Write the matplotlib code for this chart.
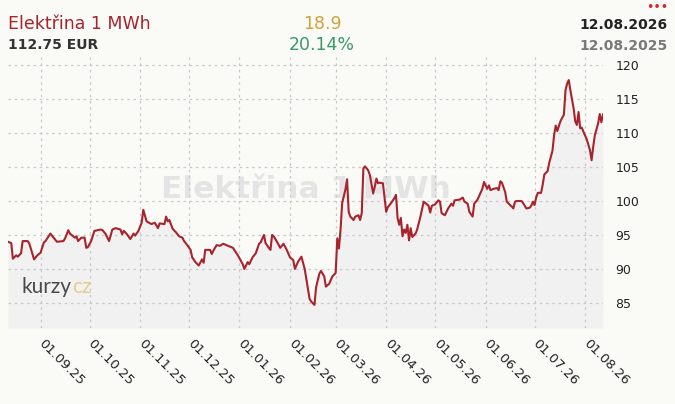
import matplotlib
matplotlib.use("Agg")
import matplotlib.pyplot as plt
import matplotlib.transforms as mtransforms
import pandas as pd
import numpy as np

# ---------------- data ----------------
dates = [
    "2025-08-12", "2025-08-14", "2025-08-15", "2025-08-17", "2025-08-18", "2025-08-20", "2025-08-21",
    "2025-08-24", "2025-08-25", "2025-08-28", "2025-08-30", "2025-09-01", "2025-09-03", "2025-09-04",
    "2025-09-07", "2025-09-09", "2025-09-11", "2025-09-15", "2025-09-16", "2025-09-18", "2025-09-19",
    "2025-09-22", "2025-09-23", "2025-09-24", "2025-09-26", "2025-09-28", "2025-09-29", "2025-09-30",
    "2025-10-02", "2025-10-04", "2025-10-08", "2025-10-09", "2025-10-11", "2025-10-13", "2025-10-15",
    "2025-10-17", "2025-10-20", "2025-10-21", "2025-10-22", "2025-10-24", "2025-10-26", "2025-10-28",
    "2025-10-29", "2025-10-31", "2025-11-02", "2025-11-03", "2025-11-05", "2025-11-08", "2025-11-10",
    "2025-11-12", "2025-11-13", "2025-11-16", "2025-11-17", "2025-11-18", "2025-11-19", "2025-11-21",
    "2025-11-23", "2025-11-25", "2025-11-27", "2025-11-28", "2025-11-30", "2025-12-02", "2025-12-03",
    "2025-12-05", "2025-12-07", "2025-12-09", "2025-12-10", "2025-12-11", "2025-12-14", "2025-12-15",
    "2025-12-16", "2025-12-18", "2025-12-20", "2025-12-22", "2025-12-24", "2025-12-28", "2025-12-31",
    "2026-01-03", "2026-01-04", "2026-01-06", "2026-01-07", "2026-01-09", "2026-01-11", "2026-01-13",
    "2026-01-14", "2026-01-16", "2026-01-17", "2026-01-19", "2026-01-20", "2026-01-21", "2026-01-22",
    "2026-01-24", "2026-01-26", "2026-01-28", "2026-01-30", "2026-02-01", "2026-02-03", "2026-02-04",
    "2026-02-06", "2026-02-08", "2026-02-10", "2026-02-11", "2026-02-13", "2026-02-14", "2026-02-16",
    "2026-02-17", "2026-02-19", "2026-02-20", "2026-02-22", "2026-02-23", "2026-02-24", "2026-02-25",
    "2026-02-27", "2026-03-01", "2026-03-02", "2026-03-03", "2026-03-04", "2026-03-05", "2026-03-07",
    "2026-03-08", "2026-03-09", "2026-03-10", "2026-03-12", "2026-03-13", "2026-03-15", "2026-03-16",
    "2026-03-17", "2026-03-18", "2026-03-19", "2026-03-21", "2026-03-22", "2026-03-24", "2026-03-25",
    "2026-03-26", "2026-03-27", "2026-03-28", "2026-03-30", "2026-04-01", "2026-04-02", "2026-04-04",
    "2026-04-06", "2026-04-07", "2026-04-08", "2026-04-09", "2026-04-10", "2026-04-11", "2026-04-12",
    "2026-04-13", "2026-04-14", "2026-04-15", "2026-04-16", "2026-04-17", "2026-04-19", "2026-04-20",
    "2026-04-22", "2026-04-24", "2026-04-27", "2026-04-28", "2026-04-29", "2026-05-01", "2026-05-03",
    "2026-05-04", "2026-05-05", "2026-05-07", "2026-05-09", "2026-05-11", "2026-05-12", "2026-05-13",
    "2026-05-16", "2026-05-18", "2026-05-19", "2026-05-21", "2026-05-22", "2026-05-24", "2026-05-25",
    "2026-05-27", "2026-05-30", "2026-05-31", "2026-06-02", "2026-06-03", "2026-06-04", "2026-06-06",
    "2026-06-08", "2026-06-09", "2026-06-10", "2026-06-11", "2026-06-13", "2026-06-14", "2026-06-16",
    "2026-06-17", "2026-06-18", "2026-06-19", "2026-06-20", "2026-06-23", "2026-06-24", "2026-06-26",
    "2026-06-28", "2026-06-29", "2026-06-30", "2026-07-01", "2026-07-02", "2026-07-03", "2026-07-05",
    "2026-07-06", "2026-07-07", "2026-07-09", "2026-07-10", "2026-07-12", "2026-07-13", "2026-07-14",
    "2026-07-15", "2026-07-16", "2026-07-17", "2026-07-19", "2026-07-20", "2026-07-21", "2026-07-22",
    "2026-07-23", "2026-07-25", "2026-07-26", "2026-07-27", "2026-07-28", "2026-07-29", "2026-07-30",
    "2026-07-31", "2026-08-02", "2026-08-03", "2026-08-04", "2026-08-05", "2026-08-06", "2026-08-07",
    "2026-08-09", "2026-08-10", "2026-08-11", "2026-08-12",
]
prices = [
    94.0, 93.8, 91.5, 92.0, 91.8, 92.3, 94.1,
    94.1, 93.8, 91.4, 92.0, 92.4, 93.9, 94.1,
    95.2, 94.6, 94.0, 94.1, 94.5, 95.7, 95.2,
    94.6, 94.8, 94.1, 94.6, 94.6, 93.1, 93.2,
    94.1, 95.6, 95.8, 95.7, 95.1, 94.1, 95.8,
    96.0, 95.8, 95.1, 95.6, 95.1, 94.4, 95.2,
    94.9, 95.6, 96.8, 98.7, 97.0, 96.6, 96.8,
    96.0, 96.7, 96.6, 97.7, 97.0, 97.2, 95.9,
    95.4, 94.8, 94.6, 94.1, 93.5, 92.8, 91.7,
    91.0, 90.5, 91.4, 90.9, 92.8, 92.8, 92.2,
    92.7, 93.5, 93.4, 93.7, 93.5, 93.1, 92.0,
    90.7, 90.0, 91.0, 90.7, 91.7, 92.3, 93.7,
    93.9, 95.0, 93.8, 93.1, 92.8, 95.0, 94.8,
    94.0, 93.1, 93.7, 92.8, 91.7, 91.3, 90.0,
    91.1, 91.8, 90.0, 88.5, 85.6, 85.2, 84.7,
    87.3, 89.3, 89.7, 88.9, 87.4, 87.6, 87.8,
    88.9, 89.4, 94.5, 93.0, 95.8, 99.7, 101.7,
    103.2, 98.4, 97.7, 97.2, 97.7, 97.9, 97.2,
    98.2, 104.8, 105.1, 104.5, 103.8, 101.1, 102.1,
    103.3, 102.6, 102.7, 102.6, 98.4, 99.1, 99.7,
    100.4, 100.9, 97.5, 96.5, 97.5, 94.8, 95.8,
    95.3, 96.5, 94.2, 96.0, 94.7, 95.2, 95.8,
    97.7, 99.9, 99.3, 98.3, 99.3, 99.5, 100.1,
    99.9, 98.2, 97.9, 98.9, 99.6, 99.3, 100.1,
    100.2, 100.5, 99.9, 99.6, 98.4, 97.7, 99.6,
    100.2, 101.8, 102.8, 101.8, 102.3, 101.6, 101.8,
    101.9, 101.6, 102.9, 102.7, 101.3, 99.9, 99.4,
    99.2, 98.9, 99.9, 100.0, 100.0, 99.7, 98.9,
    99.0, 99.3, 99.9, 99.4, 100.5, 101.2, 101.2,
    102.4, 103.9, 104.4, 105.6, 107.4, 109.7, 111.1,
    110.3, 111.1, 111.8, 112.7, 116.3, 117.3, 117.8,
    116.3, 113.6, 111.7, 111.2, 113.1, 110.7, 110.8,
    110.2, 109.1, 108.3, 107.5, 106.0, 108.0, 109.7,
    111.4, 112.8, 111.6, 112.75,
]
x_tick_dates = ["2025-09-01", "2025-10-01", "2025-11-01", "2025-12-01", "2026-01-01", "2026-02-01",
                "2026-03-01", "2026-04-01", "2026-05-01", "2026-06-01", "2026-07-01", "2026-08-01"]
x_tick_labels = ["01.09.25", "01.10.25", "01.11.25", "01.12.25", "01.01.26", "01.02.26",
                 "01.03.26", "01.04.26", "01.05.26", "01.06.26", "01.07.26", "01.08.26"]
y_ticks = [85, 90, 95, 100, 105, 110, 115, 120]
title = "Elektřina 1 MWh"
last_price = "112.75 EUR"
change_abs = "18.9"
change_pct = "20.14%"
date_to = "12.08.2026"
date_from = "12.08.2025"

# ---------------- figure ----------------
W, H = 675, 404
BG = "#fafaf7"
fig = plt.figure(figsize=(W / 100, H / 100), dpi=100, facecolor=BG)

ax_l, ax_r, ax_t, ax_b = 8, 603, 57, 328
ax = fig.add_axes([ax_l / W, 1 - ax_b / H, (ax_r - ax_l) / W, (ax_b - ax_t) / H])
ax.set_facecolor(BG)

x = pd.to_datetime(dates)
y = np.array(prices)
ymin, ymax = 81.3, 121.2

ax.set_xlim(pd.Timestamp("2025-08-12"), pd.Timestamp("2026-08-12"))
ax.set_ylim(ymin, ymax)

ax.fill_between(x, y, ymin, color="#f1f1f1", zorder=1, linewidth=0)
ax.plot(x, y, color="#a8232b", linewidth=1.5, zorder=4, solid_joinstyle="round")

# grid / ticks
ax.set_yticks(y_ticks)
ax.set_xticks(pd.to_datetime(x_tick_dates))
ax.set_xticklabels(x_tick_labels)
ax.grid(True, color="#c9c9c9", linestyle=(0, (2, 3)), linewidth=0.9, zorder=2)
ax.set_axisbelow(False)
for s in ax.spines.values():
    s.set_visible(False)

ax.yaxis.tick_right()
ax.tick_params(axis="y", length=0, pad=9, labelsize=9, labelcolor="#222222")
ax.tick_params(axis="x", length=0, pad=6.5, labelsize=9.5, labelcolor="#222222")
offset = mtransforms.ScaledTranslation(5 / 100, 0, fig.dpi_scale_trans)
for lbl in ax.get_xticklabels():
    lbl.set_rotation(-45)
    lbl.set_ha("left")
    lbl.set_va("top")
    lbl.set_rotation_mode("anchor")
    lbl.set_transform(lbl.get_transform() + offset)

# watermark (inside the axes, below the line)
ax.text(306 / W, 1 - 189 / H, title, transform=fig.transFigure, ha="center", va="center",
        fontsize=22.5, fontweight="bold", color="#e4e4e4", zorder=1.5)

# logo
ax.text(22 / W, 1 - 293 / H, "kurzy", transform=fig.transFigure, fontsize=15, color="#4a4a4a",
        family="Lato", ha="left", va="baseline", zorder=3)
ax.text(72 / W, 1 - 293 / H, "cz", transform=fig.transFigure, fontsize=15, color="#e2cf90",
        family="Lato", ha="left", va="baseline", zorder=3)

# header
fig.text(8 / W, 1 - 29 / H, title, fontsize=12.5, color="#a8232b", ha="left", va="baseline")
fig.text(8 / W, 1 - 49 / H, last_price, fontsize=10, fontweight="bold", color="#333333",
         ha="left", va="baseline")
fig.text(322 / W, 1 - 29 / H, change_abs, fontsize=12.5, color="#d2a33a", ha="center", va="baseline")
fig.text(322 / W, 1 - 50 / H, change_pct, fontsize=12.5, color="#3a9a68", ha="center", va="baseline")
fig.text(668 / W, 1 - 29 / H, date_to, fontsize=10, fontweight="bold", color="#222222",
         ha="right", va="baseline")
fig.text(668 / W, 1 - 50 / H, date_from, fontsize=10, fontweight="bold", color="#7a7a7a",
         ha="right", va="baseline")
fig.text(668 / W, 1 - 11 / H, "•••", fontsize=9, color="#e0202a", ha="right", va="baseline")

fig.savefig("out.png", dpi=100, facecolor=BG)
